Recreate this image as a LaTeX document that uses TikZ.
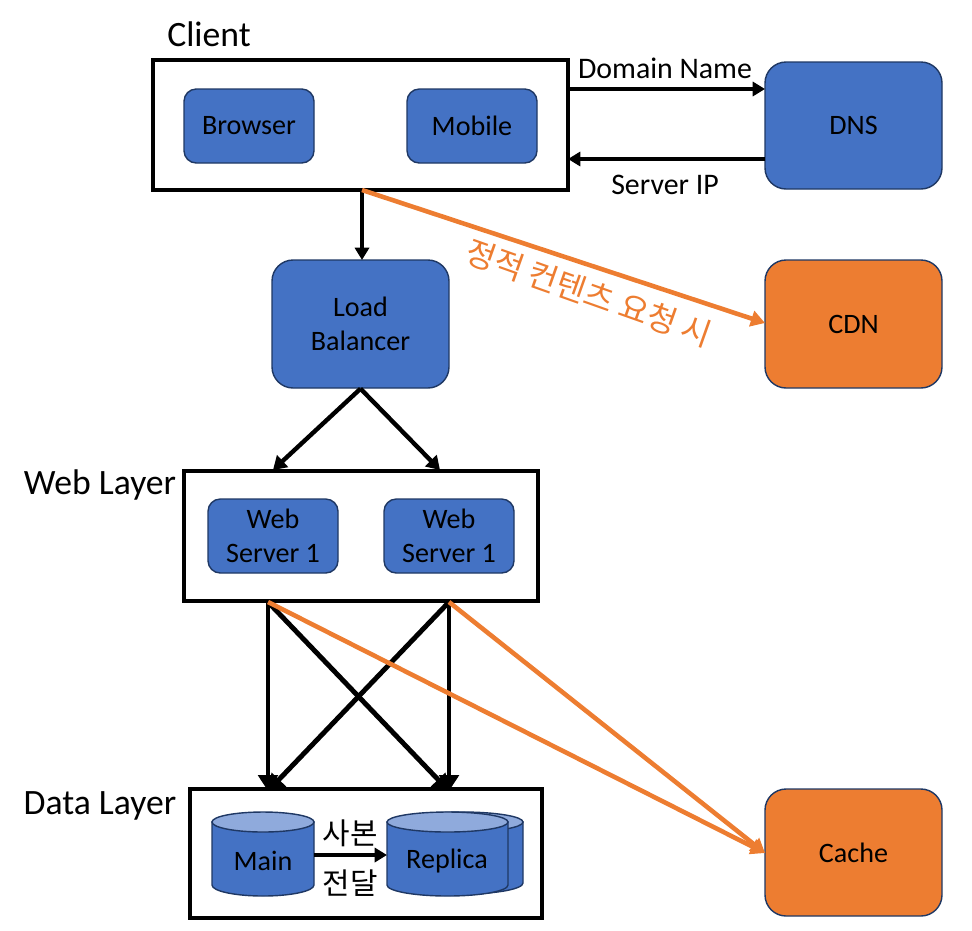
\documentclass[tikz,border=0pt]{standalone}
\usepackage{fontspec}
\setmainfont{Carlito}
\newfontfamily\krfont{Noto Sans CJK KR}
\usetikzlibrary{arrows.meta}
\definecolor{nodeblue}{HTML}{4472C4}
\definecolor{nodetop}{HTML}{8FAADC}
\definecolor{nodeedge}{HTML}{1F3864}
\definecolor{nodeorange}{HTML}{ED7D31}
% can of centre x #1, rim y #2, base y #3, half width #4
\newcommand{\dbcan}[4]{
  \draw[dbshape,fill=nodeblue] (#1-#4,#2) -- (#1-#4,#3)
    arc[start angle=180,end angle=360,x radius=#4*0.02cm,y radius=0.22cm] -- (#1+#4,#2) -- cycle;
  \draw[dbshape,fill=nodetop] (#1,#2) ellipse[x radius=#4*0.02cm,y radius=0.2cm];
}
\begin{document}
\begin{tikzpicture}
[x=0.02cm,y=-0.02cm,
  layerbox/.style={shape=rectangle,draw,line width=2.6pt,inner sep=0pt},
  bluebox/.style={shape=rectangle,rounded corners=7pt,draw=nodeedge,line width=0.8pt,fill=nodeblue,
    inner sep=0pt,align=center,font=\fontsize{16}{19}\selectfont},
  bigbox/.style={bluebox,rounded corners=12pt},
  orangebox/.style={bigbox,fill=nodeorange},
  dbshape/.style={draw=nodeedge,line width=0.8pt},
  layerlabel/.style={font=\fontsize{20.3}{24}\selectfont,inner sep=0pt},
  edgelabel/.style={font=\fontsize{17}{20}\selectfont,inner sep=0pt},
  dblabel/.style={font=\fontsize{16}{19}\selectfont,inner sep=0pt},
  linedecorate/.style={-{Triangle[length=7pt,width=8pt]},line width=2.2pt},
  linemid/.style={-{Triangle[length=7.5pt,width=9pt]},line width=2.5pt},
  linethick/.style={-{Triangle[length=9pt,width=11pt]},line width=2.8pt},
  orangedecorate/.style={draw=nodeorange,line width=2.6pt,-{Triangle[length=8pt,width=9pt,fill=nodeorange]}}]
\useasboundingbox (0,0) rectangle (972,930);
%% layer boxes
\foreach \nodename/\x/\y/\boxw/\boxh in {client/360.5/125/415/130, web/361/536/354/130, data/366/853.5/352/129}
{
  \node (\nodename) at (\x,\y) [layerbox,minimum width=\boxw*0.02cm,minimum height=\boxh*0.02cm] {};
}
%% blue and orange boxes
\foreach \nodename/\x/\y/\boxw/\boxh/\kind/\txt in {browser/249/126/130/74/bluebox/Browser,
  mobile/472/126/130/74/bluebox/Mobile, dns/853.5/125.5/177/127/bigbox/DNS,
  lb/360.5/324/177/128/bigbox/Load\\Balancer, cdn/853.5/324/177/128/orangebox/CDN,
  webone/273/536/130/74/bluebox/Web\\Server 1, webtwo/449/536/130/74/bluebox/Web\\Server 1,
  cache/853.5/852.5/177/127/orangebox/Cache}
{
  \node (\nodename) at (\x,\y) [\kind,minimum width=\boxw*0.02cm,minimum height=\boxh*0.02cm] {\txt};
}
%% cylinders
\dbcan{462.5}{822}{883}{60.5}
\dbcan{263}{822}{885}{51}
\dbcan{447.5}{822}{885}{60.5}
%% labels
\node (clientlabel) at (209,34) [layerlabel] {Client};
\node (weblabel) at (100,485) [layerlabel] {Web Layer};
\node (datalabel) at (100,806) [layerlabel] {Data Layer};
\node (domainlabel) at (665,68) [edgelabel] {Domain Name};
\node (iplabel) at (665,185) [edgelabel] {Server IP};
\node (cdnlabel) at (589,293) [edgelabel,font=\fontsize{18.3}{22}\selectfont,text=nodeorange,rotate=-19.5] {\krfont 정적 컨텐츠 요청 시};
\node (copylabel) at (350,833) [edgelabel] {\krfont 사본};
\node (sendlabel) at (350,883) [edgelabel] {\krfont 전달};
\node (mainlabel) at (263,861) [dblabel] {Main};
\node (replicalabel) at (447,861) [dblabel] {Replica};
%% ports
\foreach \nodename/\x/\y in {dnsin/765/89, dnsout/765/159, clientin/568/159, clientout/568/89,
  clientdown/362/190, lbtop/362/260, cdnin/765/323, webleft/273/470, webright/440/470,
  srcleft/268/602, srcright/449/602, dstleft/268/791, dstright/449/791, cachein/765/853,
  maindot/314/855, replicadot/387/855}
{
  \coordinate (\nodename) at (\x,\y);
}
%% edges or lines
\foreach \startnode/\endnode in {clientout/dnsin, dnsout/clientin, clientdown/lbtop, maindot/replicadot}
{
  \draw[linedecorate] (\startnode) -- (\endnode);
}
\foreach \startnode/\endnode in {lb.south/webleft, lb.south/webright}
{
  \draw[linemid] (\startnode) -- (\endnode);
}
\foreach \startnode/\endnode in {srcleft/dstleft, srcleft/dstright, srcright/dstleft, srcright/dstright}
{
  \draw[linethick] (\startnode) -- (\endnode);
}
\foreach \startnode/\endnode in {clientdown/cdnin, srcleft/cachein, srcright/cachein}
{
  \draw[orangedecorate] (\startnode) -- (\endnode);
}
\end{tikzpicture}
\end{document}
